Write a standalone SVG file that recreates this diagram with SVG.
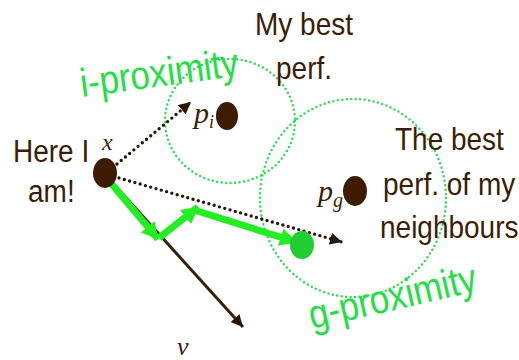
<svg xmlns="http://www.w3.org/2000/svg" width="519" height="360" viewBox="0 0 519 360">
<style>
.lbl{font-family:"Liberation Sans",Arial,sans-serif;font-size:28px;fill:#3b1e04}
.prox{font-family:"Liberation Sans",Arial,sans-serif;font-size:35px;fill:#22e044}
.math{font-family:"Liberation Serif","Times New Roman",serif;font-style:italic;fill:#3b1e04}
.zone{fill:none;stroke:#2ddc50;stroke-width:2.5;stroke-dasharray:0 4.5;stroke-linecap:round}
.dot{fill:#3d1c02}
.dotted{fill:none;stroke:#2a1606;stroke-width:3.4;stroke-dasharray:0 5.5;stroke-linecap:round}
.vel{fill:none;stroke:#3a1f08;stroke-width:3}
.move{fill:none;stroke:#22ee22;stroke-width:7}
</style>
<defs>
<marker id="ah" markerUnits="userSpaceOnUse" markerWidth="14" markerHeight="12" refX="12" refY="6" orient="auto">
<path d="M0,0 L12,6 L0,12 Z" fill="#2a1606"/>
</marker>
<marker id="ahg" markerUnits="userSpaceOnUse" markerWidth="20" markerHeight="20" refX="16" refY="9" orient="auto">
<path d="M0,0 L17,9 L0,18 Z" fill="#22ee22"/>
</marker>
</defs>
<g id="zones">
<ellipse id="i-zone" class="zone" cx="230" cy="121" rx="65" ry="62"/>
<ellipse id="g-zone" class="zone" cx="353" cy="198" rx="93" ry="99"/>
</g>
<g id="connectors">
<line class="dotted" x1="117" y1="164" x2="191" y2="102" marker-end="url(#ah)"/>
<line class="dotted" x1="119" y1="178" x2="342" y2="242" marker-end="url(#ah)"/>
<line class="vel" x1="110" y1="180" x2="243" y2="327" marker-end="url(#ah)"/>
<line class="move" x1="110" y1="182" x2="158" y2="239" marker-end="url(#ahg)"/>
<line class="move" x1="159" y1="238" x2="198" y2="207" marker-end="url(#ahg)"/>
<line class="move" x1="194" y1="210" x2="296" y2="242" marker-end="url(#ahg)"/>
</g>
<g id="x-node">
<ellipse class="dot" cx="105" cy="173" rx="12" ry="15"/>
<text class="math" x="102" y="150" font-size="24">x</text>
<text class="lbl" transform="translate(13,162) scale(1,1.1)">Here I</text>
<text class="lbl" transform="translate(28,202) scale(1,1.1)">am!</text>
</g>
<g id="pi-node">
<ellipse class="dot" cx="227" cy="116" rx="11" ry="14"/>
<text class="math" x="194" y="123" font-size="30">p<tspan font-size="18" dy="5">i</tspan></text>
<text class="lbl" transform="translate(255,35) scale(1,1.15)">My best</text>
<text class="lbl" transform="translate(276,79) scale(1,1.15)">perf.</text>
</g>
<g id="pg-node">
<ellipse class="dot" cx="355" cy="191" rx="12" ry="15"/>
<text class="math" x="318" y="201" font-size="30">p<tspan font-size="20" dy="6">g</tspan></text>
<text class="lbl" transform="translate(395,150) scale(1,1.15)">The best</text>
<text class="lbl" transform="translate(383,195) scale(1,1.15)">perf. of my</text>
<text class="lbl" transform="translate(380,238) scale(1,1.15)">neighbours</text>
</g>
<g id="new-node">
<ellipse cx="302" cy="245" rx="12" ry="14" fill="#22cc33"/>
</g>
<g id="v-label">
<text class="math" x="177" y="355" font-size="26">v</text>
</g>
<text class="prox" transform="translate(82,97) rotate(-7.7) scale(1,1.15)">i-proximity</text>
<text class="prox" transform="translate(312,329) rotate(-13) scale(1,1.15)">g-proximity</text>
</svg>
